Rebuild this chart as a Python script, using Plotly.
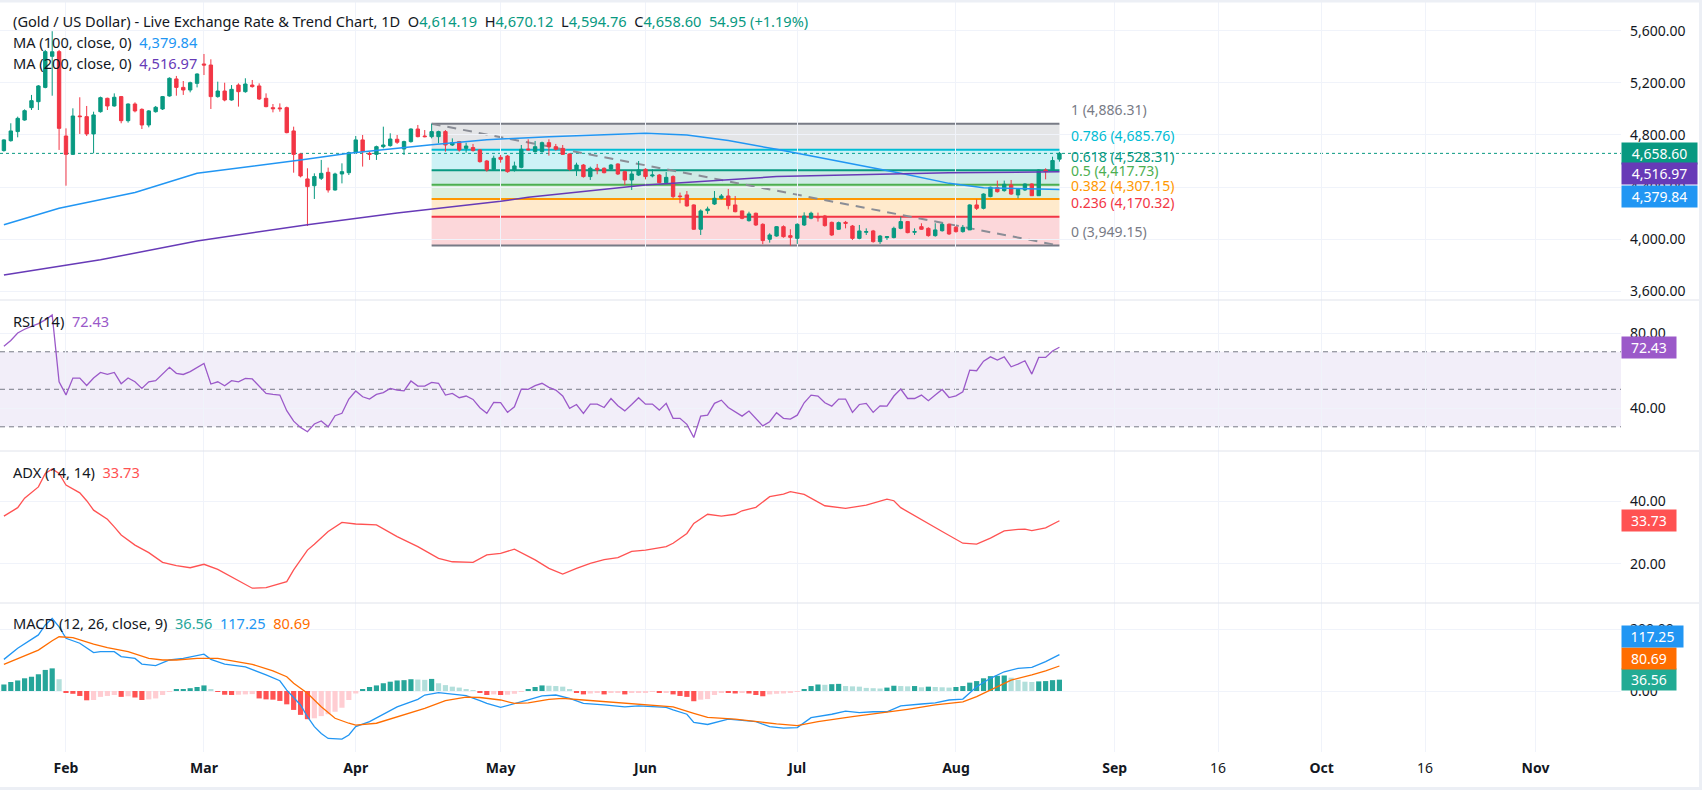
import numpy as np
import pandas as pd
import plotly.graph_objects as go
from plotly.subplots import make_subplots

#%% data (XAU/USD, daily bars, 2026)
first_day, last_day = "2026-01-20", "2026-08-24"
holidays = ["2026-04-03"]  # Good Friday, no bar

opens = [4680, 4756, 4826, 4915, 5010, 5056, 5166, 5405, 5441, 4792,
         4651, 4946, 4941, 4808, 4979, 5082, 5023, 5095, 4910, 5038,
         4997, 4877, 4979, 5000, 5100, 5231, 5166, 5146, 5197, 5346,
         5338, 5095, 5138, 5069, 5184, 5133, 5184, 5177, 5082, 5010,
         5008, 5010, 4831, 4654, 4462, 4410, 4467, 4513, 4377, 4500,
         4510, 4664, 4762, 4659, 4651, 4710, 4718, 4767, 4692, 4749,
         4846, 4792, 4787, 4787, 4826, 4723, 4749, 4697, 4703, 4685,
         4600, 4536, 4628, 4638, 4531, 4551, 4692, 4672, 4672, 4741,
         4710, 4697, 4654, 4531, 4569, 4480, 4544, 4544, 4539, 4577,
         4518, 4454, 4492, 4536, 4485, 4492, 4433, 4480, 4331, 4339,
         4262, 4075, 4218, 4269, 4313, 4331, 4262, 4216, 4141, 4198,
         4113, 3998, 4023, 4095, 4026, 4005, 4108, 4160, 4172, 4177,
         4128, 4075, 4128, 4100, 4005, 4052, 4062, 3980, 4011, 4011,
         4082, 4134, 4052, 4095, 4082, 4026, 4064, 4113, 4090, 4057,
         4070, 4262, 4236, 4326, 4395, 4372, 4416, 4339, 4377, 4423,
         4333, 4531, 4531, 4614.19]
highs = [4767, 4890, 4941, 4997, 5108, 5184, 5454, 5598, 5454, 4851,
         5005, 5090, 5023, 4979, 5095, 5087, 5120, 5100, 5043, 5051,
         5005, 4992, 5023, 5100, 5243, 5254, 5215, 5210, 5274, 5423,
         5382, 5210, 5202, 5184, 5197, 5236, 5223, 5197, 5120, 5038,
         5043, 5018, 4864, 4659, 4544, 4505, 4608, 4549, 4510, 4582,
         4672, 4792, 4800, 4672, 4718, 4864, 4813, 4800, 4756, 4851,
         4877, 4838, 4886.31, 4833, 4838, 4774, 4754, 4741, 4731, 4690,
         4608, 4641, 4646, 4646, 4595, 4723, 4767, 4754, 4749, 4767,
         4731, 4723, 4659, 4587, 4577, 4557, 4577, 4551, 4577, 4582,
         4526, 4531, 4600, 4544, 4536, 4500, 4515, 4490, 4357, 4369,
         4267, 4228, 4249, 4369, 4346, 4385, 4331, 4218, 4210, 4203,
         4121, 4044, 4100, 4105, 4075, 4121, 4205, 4210, 4203, 4185,
         4134, 4134, 4139, 4108, 4108, 4082, 4070, 4031, 4023, 4095,
         4172, 4139, 4082, 4121, 4090, 4121, 4121, 4121, 4100, 4108,
         4267, 4305, 4351, 4403, 4449, 4449, 4454, 4390, 4428, 4428,
         4536, 4544, 4633, 4670.12]
lows = [4672, 4749, 4782, 4910, 4992, 4992, 5159, 5102, 4685, 4410,
        4646, 4808, 4792, 4659, 4972, 4992, 5018, 4890, 4895, 4974,
        4846, 4859, 4972, 4992, 5095, 5102, 5108, 5128, 5166, 5261,
        5000, 5087, 5059, 5064, 5018, 5125, 5164, 5069, 5013, 4974,
        4979, 4813, 4510, 4474, 4100, 4308, 4454, 4357, 4372, 4428,
        4492, 4659, 4557, 4608, 4608, 4697, 4710, 4731, 4646, 4741,
        4782, 4782, 4774, 4736, 4672, 4715, 4672, 4664, 4672, 4587,
        4518, 4531, 4587, 4510, 4518, 4544, 4685, 4664, 4664, 4641,
        4680, 4646, 4526, 4485, 4472, 4454, 4498, 4505, 4531, 4492,
        4415, 4377, 4485, 4459, 4474, 4428, 4428, 4313, 4275, 4249,
        4070, 4031, 4193, 4262, 4305, 4228, 4205, 4152, 4134, 4100,
        3960, 3972, 4018, 4010, 3949.15, 3962, 4100, 4152, 4134, 4095,
        4023, 4070, 4082, 3993, 3998, 4031, 3972, 3962, 3993, 4005,
        4075, 4044, 4031, 4070, 4018, 4018, 4057, 4031, 4049, 4049,
        4070, 4223, 4228, 4321, 4357, 4364, 4339, 4313, 4369, 4331,
        4331, 4459, 4526, 4594.76]
closes = [4762, 4831, 4928, 4987, 5064, 5177, 5441, 5440, 4851, 4651,
          4946, 4941, 4808, 4954, 5087, 5023, 5090, 4910, 5038, 4985,
          4877, 4985, 5013, 5095, 5236, 5166, 5146, 5202, 5269, 5338,
          5095, 5138, 5069, 5151, 5133, 5192, 5172, 5077, 5018, 5002,
          5002, 4818, 4651, 4485, 4403, 4480, 4505, 4377, 4500, 4518,
          4664, 4762, 4672, 4651, 4710, 4723, 4769, 4744, 4749, 4846,
          4787, 4787, 4826, 4826, 4723, 4741, 4685, 4715, 4680, 4595,
          4531, 4621, 4613, 4518, 4562, 4690, 4685, 4710, 4741, 4710,
          4690, 4651, 4536, 4569, 4480, 4544, 4531, 4510, 4569, 4500,
          4454, 4500, 4531, 4480, 4492, 4433, 4474, 4326, 4326, 4254,
          4075, 4216, 4231, 4313, 4331, 4257, 4210, 4159, 4193, 4108,
          3988, 4031, 4095, 4018, 4013, 4113, 4177, 4198, 4164, 4103,
          4031, 4126, 4121, 4005, 4062, 4057, 3980, 4023, 4018, 4082,
          4134, 4049, 4057, 4075, 4026, 4070, 4113, 4039, 4057, 4090,
          4262, 4236, 4346, 4398, 4364, 4421, 4346, 4382, 4423, 4333,
          4531, 4518, 4603.65, 4658.60]

# moving averages, read at these bars
ma100_x = [0, 8, 19, 28, 43, 50, 62, 70, 79, 93, 99, 105, 112, 115, 123, 130, 137, 142, 147, 153]
ma100 = [4110, 4236, 4357, 4505, 4608, 4659, 4725, 4764, 4787, 4813, 4800, 4757, 4690, 4659,
         4582, 4505, 4428, 4395, 4388, 4379.84]
ma200_x = [0, 14, 28, 44, 57, 72, 76, 93, 112, 123, 137, 153]
ma200 = [3723, 3840, 3985, 4110, 4200, 4290, 4321, 4415, 4480, 4492, 4510, 4516.97]

rsi = [73, 76, 80, 82, 83.5, 85, 87, 89.6, 54, 47,
       56, 56, 52, 56, 59, 58, 59, 53, 56, 54,
       50.5, 54, 54.6, 57.9, 61.7, 58.5, 57.9, 59.4, 61.7, 63.8,
       52.8, 54, 51.9, 54.6, 54, 55.8, 55.5, 51.4, 47.8, 47.3,
       46.9, 38.6, 33, 29.7, 27.4, 31.5, 33.1, 30, 35.9, 37.2,
       44.8, 49.1, 46, 44.8, 47.3, 48.2, 50.5, 49.6, 49.2, 54.4,
       51.7, 51.7, 53.7, 53.2, 46.9, 47.8, 45.5, 46.4, 44.6, 40.2,
       37.2, 43, 42.9, 37.7, 40.7, 50.1, 50, 51.9, 53.2, 51,
       49.6, 46.4, 39.8, 41.9, 37.1, 42.1, 42.1, 40.3, 45.1, 41.2,
       38.5, 41.9, 45.5, 42.1, 42.1, 38.9, 42.5, 34.5, 34.5, 31.3,
       24.3, 35.7, 36.2, 42.5, 44.2, 40.3, 37.8, 35.7, 38.4, 34.5,
       30.5, 32.7, 37.5, 34.5, 34.1, 36.2, 42.8, 46.9, 46.4, 42.8,
       41, 44.8, 44.8, 37.7, 41.9, 42.5, 37.7, 41.2, 41, 46.4,
       50.1, 45.1, 45.1, 46.9, 43.9, 46.9, 49.9, 45.6, 46.5, 48.7,
       60.2, 59.9, 65, 67.3, 65.6, 67.3, 62, 63.4, 65.2, 58.1,
       67, 67, 70.4, 72.43]

adx_x = [0, 2, 3, 5, 6, 7, 8, 9, 11, 12, 13, 15, 16, 17, 19, 21, 23, 25, 27, 29,
         31, 33, 36, 38, 41, 42, 44, 45, 47, 49, 51, 54, 57, 60, 63, 65, 68, 70, 72, 74,
         77, 79, 81, 83, 85, 87, 89, 91, 93, 96, 97, 99, 100, 102, 104, 106, 107, 109, 111, 113,
         114, 116, 119, 122, 125, 128, 129, 130, 133, 136, 139, 141, 143, 145, 147, 148, 149, 151, 153]
adx = [35.2, 37.9, 40.9, 44.5, 48.8, 50.2, 48.8, 45.1, 42.6, 40.1, 37.1, 34.2, 31.8, 29.2, 26.0,
       23.6, 20.5, 19.5, 18.8, 19.9, 18.3, 16.0, 12.3, 12.5, 14.4, 18.1, 24.4, 26.3, 30.3, 33.2,
       32.7, 32.4, 28.7, 25.5, 21.8, 20.7, 20.5, 22.9, 23.4, 24.7, 21.3, 18.6, 16.8, 18.6, 20.2,
       21.4, 22.0, 24.0, 24.4, 25.5, 26.6, 29.7, 32.9, 35.8, 35.2, 35.8, 36.9, 38.0, 41.4, 42.2,
       43.0, 42.1, 38.5, 37.7, 38.7, 40.6, 40.1, 37.9, 34.0, 30.3, 26.6, 26.3, 28.2, 30.5, 31.0,
       31.1, 30.6, 31.5, 33.73]

macd_x = [0, 2, 5, 6, 7, 8, 9, 11, 13, 14, 16, 17, 19, 20, 22, 24, 26, 29, 30, 32,
          35, 36, 38, 40, 41, 43, 44, 45, 46, 47, 49, 50, 51, 53, 55, 57, 60, 61, 63, 65,
          67, 69, 70, 72, 74, 76, 78, 80, 82, 84, 87, 90, 92, 96, 97, 99, 100, 102, 105, 107,
          109, 111, 113, 115, 117, 120, 122, 124, 126, 128, 130, 133, 135, 137, 139, 141, 143, 145, 147, 149,
          151, 153]
macd = [102, 138, 181, 213, 234, 207, 170, 154, 124, 127, 127, 111, 105, 87, 82, 100, 105, 119, 102, 87,
        78, 70, 52, 33, 3, -45, -83, -115, -137, -153, -155, -142, -115, -99, -75, -51, -27, -13, -5, -10,
        -15, -31, -40, -53, -42, -29, -16, -13, -24, -40, -45, -51, -48, -53, -61, -75, -101, -108, -91, -96,
        -99, -115, -120, -118, -86, -75, -65, -70, -67, -67, -48, -42, -38, -29, -26, 14, 41, 62, 73, 76,
        95, 117.25]
signal_x = [0, 2, 5, 7, 8, 10, 13, 15, 18, 21, 23, 25, 28, 31, 34, 36, 39, 41, 42, 44,
            46, 48, 50, 51, 54, 57, 61, 64, 67, 69, 72, 74, 76, 79, 81, 84, 90, 94, 97, 100,
            102, 106, 109, 112, 115, 118, 123, 127, 131, 135, 139, 141, 143, 146, 149, 151, 153]
signal = [86, 105, 132, 162, 175, 172, 151, 140, 127, 105, 100, 100, 105, 105, 95, 86, 65, 46, 25, -7,
          -51, -88, -104, -110, -104, -83, -56, -31, -20, -21, -29, -40, -38, -27, -24, -29, -40, -45, -51, -72,
          -85, -91, -99, -106, -112, -99, -83, -72, -59, -45, -35, -18, 3, 35, 52, 65, 80.69]
macd_hist = [21, 29, 34, 41, 46, 54, 68, 73, 38, -5,
             -9, -16, -30, -29, -19, -16, -13, -19, -17, -21,
             -29, -27, -24, -13, -2, 5, 6, 9, 13, 18,
             5, -3, -12, -13, -12, -11, -10, -24, -27, -28,
             -32, -43, -61, -77, -91, -88, -81, -75, -67, -54,
             -29, -8, 5, 13, 18, 25, 30, 34, 35, 38,
             37, 36, 39, 25, 19, 14, 11, 5, 3, -5,
             -13, -11, -13, -12, -9, -3, 5, 13, 18, 17,
             16, 14, 5, -5, -11, -8, -6, -11, -6, -5,
             -11, -6, -5, -4, -3, -6, -5, -11, -16, -19,
             -33, -28, -26, -13, -4, -5, -8, -4, -8, -13,
             -17, -11, -9, -8, -5, -2, 5, 16, 21, 20,
             22, 23, 16, 15, 14, 10, 9, 8, 11, 17,
             16, 15, 16, 12, 14, 13, 12, 11, 13, 16,
             27, 32, 41, 48, 49, 50, 43, 36, 30, 29,
             31, 32, 35, 36.56]

fib_ratios = [1, 0.786, 0.618, 0.5, 0.382, 0.236, 0]
fib_prices = [4886.31, 4685.76, 4528.31, 4417.73, 4307.15, 4170.32, 3949.15]
fib_bars = [62, 153]  # anchor bars of the retracement box

tick_dates = ["2026-02-01", "2026-03-01", "2026-04-01", "2026-05-01", "2026-06-01", "2026-07-01",
              "2026-08-01", "2026-09-01", "2026-09-16", "2026-10-01", "2026-10-16", "2026-11-01"]
tick_text = ["Feb", "Mar", "Apr", "May", "Jun", "Jul", "Aug", "Sep", "16", "Oct", "16", "Nov"]

#%% bar positions (trading days, future part in calendar days)
days = pd.bdate_range(first_day, last_day)
days = days[~days.isin(pd.to_datetime(holidays))]
idx = np.arange(len(days))
assert len(days) == len(opens) == len(rsi) == len(macd_hist)

def date_pos(d):
    d = pd.Timestamp(d)
    if d <= days[-1]:
        return int(np.searchsorted(days, d))
    return int(idx[-1] + (d - days[-1]).days)

tick_pos = [date_pos(d) for d in tick_dates]
tick_lbl = [t if t.isdigit() else f"<b>{t}</b>" for t in tick_text]

#%% styling
UP, DOWN = "#089981", "#f23645"
C_MA100, C_MA200 = "#2196f3", "#673ab7"
C_RSI, C_ADX = "#9b59c9", "#ff5252"
C_MACD, C_SIG = "#2196f3", "#ff6d00"
TXT, GRID, SEP = "#131722", "#f0f3fa", "#e0e3eb"
FONT = "Noto Sans"
fib_line_col = ["#787b86", "#00bcd4", "#089981", "#4caf50", "#ff9800", "#f23645", "#787b86"]
fib_fill_col = ["rgba(120,123,134,0.2)", "rgba(0,188,212,0.2)", "rgba(8,153,129,0.2)",
                "rgba(76,175,80,0.2)", "rgba(255,152,0,0.2)", "rgba(242,54,69,0.2)"]

W, H = 1702, 791
PW, PH = 1621, 752  # plot area in px


def py(p):  # px from top -> paper y
    return (PH - p) / PH


def pxp(p):  # px from left -> paper x
    return p / PW


hist_col = []
prev = None
for h in macd_hist:
    rising = prev is None or h > prev
    if h >= 0:
        hist_col.append("#26a69a" if rising else "#b2dfdb")
    else:
        hist_col.append("#ffcdd2" if rising else "#ff5252")
    prev = h

#%% figure
fig = make_subplots(rows=4, cols=1, shared_xaxes=True, vertical_spacing=0)

fig.add_trace(go.Candlestick(
    x=idx, open=opens, high=highs, low=lows, close=closes,
    increasing=dict(line=dict(color=UP, width=1), fillcolor=UP),
    decreasing=dict(line=dict(color=DOWN, width=1), fillcolor=DOWN),
    whiskerwidth=0, hoverinfo="skip"), row=1, col=1)
fig.add_trace(go.Scatter(x=ma100_x, y=ma100, mode="lines", line=dict(color=C_MA100, width=1.5)), row=1, col=1)
fig.add_trace(go.Scatter(x=ma200_x, y=ma200, mode="lines", line=dict(color=C_MA200, width=1.5)), row=1, col=1)
fig.add_trace(go.Scatter(x=idx, y=rsi, mode="lines", line=dict(color=C_RSI, width=1.3)), row=2, col=1)
fig.add_trace(go.Scatter(x=adx_x, y=adx, mode="lines", line=dict(color=C_ADX, width=1.3)), row=3, col=1)
fig.add_trace(go.Bar(x=idx, y=macd_hist, marker=dict(color=hist_col, line=dict(width=0)), width=0.75), row=4, col=1)
fig.add_trace(go.Scatter(x=macd_x, y=macd, mode="lines", line=dict(color=C_MACD, width=1.3)), row=4, col=1)
fig.add_trace(go.Scatter(x=signal_x, y=signal, mode="lines", line=dict(color=C_SIG, width=1.3)), row=4, col=1)

shapes = []
# fib box
for k in range(len(fib_prices) - 1):
    shapes.append(dict(type="rect", xref="x", yref="y", x0=fib_bars[0], x1=fib_bars[1],
                       y0=fib_prices[k + 1], y1=fib_prices[k], fillcolor=fib_fill_col[k],
                       line=dict(width=0), layer="below"))
for p, c in zip(fib_prices, fib_line_col):
    shapes.append(dict(type="line", xref="x", yref="y", x0=fib_bars[0], x1=fib_bars[1], y0=p, y1=p,
                       line=dict(color=c, width=2), layer="below"))
shapes.append(dict(type="line", xref="x", yref="y", x0=fib_bars[0], x1=fib_bars[1],
                   y0=fib_prices[0], y1=fib_prices[-1],
                   line=dict(color="#8a8d96", width=2, dash="9px,7px"), layer="below"))
# last close
shapes.append(dict(type="line", xref="paper", yref="y", x0=0, x1=1, y0=closes[-1], y1=closes[-1],
                   line=dict(color=UP, width=1, dash="dot"), layer="below"))
# rsi band
shapes.append(dict(type="rect", xref="paper", yref="y2", x0=0, x1=1, y0=30, y1=70,
                   fillcolor="rgba(126,87,194,0.1)", line=dict(width=0), layer="below"))
for lv in [70, 50, 30]:
    shapes.append(dict(type="line", xref="paper", yref="y2", x0=0, x1=1, y0=lv, y1=lv,
                       line=dict(color="#787b86", width=1, dash="5px,4px"), layer="below"))
# pane separators and frame
for p in [300, 451, 603]:
    shapes.append(dict(type="line", xref="paper", yref="paper", x0=0, x1=W / PW, y0=py(p), y1=py(p),
                       line=dict(color=SEP, width=1)))
shapes.append(dict(type="rect", xref="paper", yref="paper", x0=-0.001, x1=(W - 1.5) / PW,
                   y0=py(H - 2.5), y1=py(1), line=dict(color="#eceff5", width=3)))

ann = []
val = lambda v, c: f'<span style="color:{c}">{v}</span>'
sp = "\u00a0\u00a0"
chg = closes[-1] - closes[-2]
title = ("(Gold / US Dollar) - Live Exchange Rate &amp; Trend Chart, 1D" + sp
         + "O" + val(f"{opens[-1]:,.2f}", UP) + sp + "H" + val(f"{highs[-1]:,.2f}", UP) + sp
         + "L" + val(f"{lows[-1]:,.2f}", UP) + sp + "C" + val(f"{closes[-1]:,.2f}", UP) + sp
         + val(f"{chg:.2f} ({chg / closes[-2] * 100:+.2f}%)", UP))
legends = [
    (21, title),
    (42, "MA (100, close, 0)" + sp + val(f"{ma100[-1]:,.2f}", C_MA100)),
    (63, "MA (200, close, 0)" + sp + val(f"{ma200[-1]:,.2f}", C_MA200)),
    (321, "RSI (14)" + sp + val(f"{rsi[-1]:.2f}", C_RSI)),
    (472, "ADX (14, 14)" + sp + val(f"{adx[-1]:.2f}", C_ADX)),
    (623, "MACD (12, 26, close, 9)" + sp + val(f"{macd_hist[-1]:.2f}", "#26a69a") + sp
     + val(f"{macd[-1]:.2f}", C_MACD) + sp + val(f"{signal[-1]:.2f}", C_SIG)),
]
for y_px, t in legends:
    ann.append(dict(xref="paper", yref="paper", x=pxp(11), y=py(y_px), xanchor="left", yanchor="middle",
                    text=t, showarrow=False, font=dict(family=FONT, size=14.6, color=TXT)))

for r, p, c in zip(fib_ratios, fib_prices, fib_line_col):
    ann.append(dict(xref="x", yref="y", x=fib_bars[1], y=p, xanchor="left", yanchor="middle",
                    xshift=10, yshift=14, text=f"{r:g} ({p:,.2f})", showarrow=False,
                    font=dict(family=FONT, size=14, color=c)))

tags = [
    ("y", closes[-1], f"{closes[-1]:,.2f}", UP, 0, 71),
    ("y", ma200[-1], f"{ma200[-1]:,.2f}", C_MA200, -2, 71),
    ("y", ma100[-1], f"{ma100[-1]:,.2f}", C_MA100, -7, 71),
    ("y2", rsi[-1], f"{rsi[-1]:.2f}", C_RSI, 0, 50),
    ("y3", adx[-1], f"{adx[-1]:.2f}", C_ADX, 0, 50),
    ("y4", macd_hist[-1], f"{macd_hist[-1]:.2f}", "#22ab94", 0, 50),
    ("y4", signal[-1], f"{signal[-1]:.2f}", C_SIG, 7.5, 50),
    ("y4", macd[-1], f"{macd[-1]:.2f}", C_MACD, 17.7, 57),
]
for yr, v, t, c, ys, w in tags:
    ann.append(dict(xref="paper", yref=yr, x=1, y=v, xanchor="left", yanchor="middle", yshift=ys,
                    text=t, showarrow=False, bgcolor=c, width=w, height=17, borderpad=2, align="center",
                    font=dict(family=FONT, size=14, color="white")))

fig.update_layout(
    width=W, height=H, margin=dict(l=0, r=W - PW, t=0, b=H - PH),
    paper_bgcolor="white", plot_bgcolor="white", showlegend=False, hovermode=False,
    font=dict(family=FONT, size=14, color=TXT),
    shapes=shapes, annotations=ann,
)

fig.update_xaxes(range=[-0.565, 234.4], tickvals=tick_pos, ticktext=tick_lbl, showgrid=True,
                 gridcolor=GRID, gridwidth=1, zeroline=False, showline=False, ticks="",
                 rangeslider_visible=False, fixedrange=True)
for r in [1, 2, 3]:
    fig.update_xaxes(showticklabels=False, row=r, col=1)
fig.update_xaxes(showticklabels=True, ticklabelstandoff=6, tickfont=dict(size=14, color=TXT), row=4, col=1)

yax = dict(side="right", showgrid=True, gridcolor=GRID, zeroline=False, showline=False, ticks="",
           ticklabelstandoff=8, tickfont=dict(family=FONT, size=14, color=TXT), tickformat=",.2f",
           fixedrange=True)
fig.update_layout(
    yaxis=dict(yax, domain=[py(300), 1], range=[3531, 5838],
               tickvals=[3600, 4000, 4400, 4800, 5200, 5600]),
    yaxis2=dict(yax, domain=[py(451), py(300)], range=[17.1, 97.6], tickvals=[40, 80]),
    yaxis3=dict(yax, domain=[py(603), py(451)], range=[7.6, 55.9], tickvals=[20, 40]),
    yaxis4=dict(yax, domain=[0, py(603)], range=[-196.8, 283.9], tickvals=[0, 200]),
)

# the page body has a default 8px margin; drop it so the figure fills the window
fig.write_html("out.html", config={"displayModeBar": False},
               post_script="document.body.style.margin='0';document.body.style.overflow='hidden';")
